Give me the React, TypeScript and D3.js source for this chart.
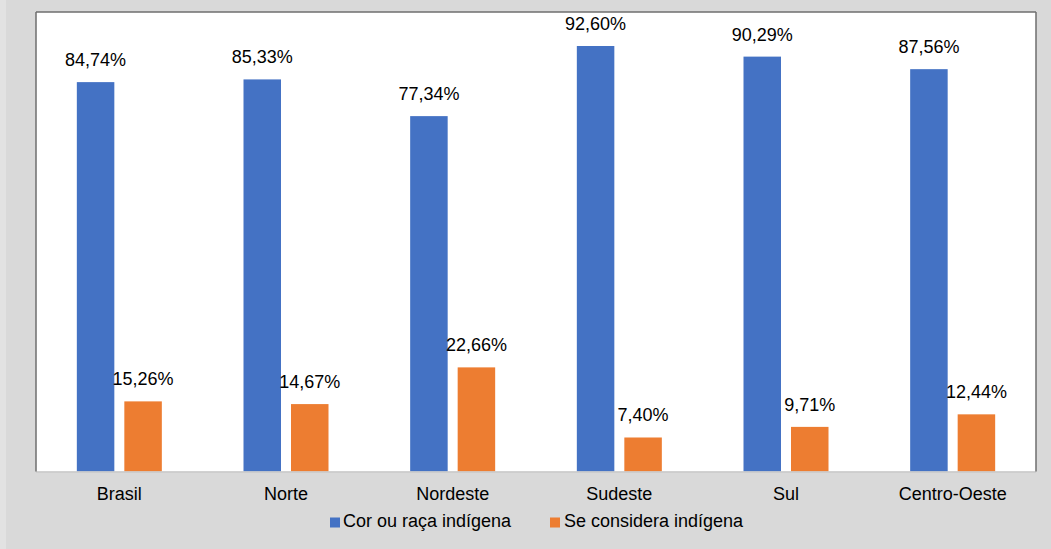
import React from "react";
import * as d3 from "d3";

const categories = ["Brasil", "Norte", "Nordeste", "Sudeste", "Sul", "Centro-Oeste"];
const seriesNames = ["Cor ou raça indígena", "Se considera indígena"];
const corOuRaca = [84.74, 85.33, 77.34, 92.6, 90.29, 87.56];
const seConsidera = [15.26, 14.67, 22.66, 7.4, 9.71, 12.44];
const colors = ["#4472c4", "#ed7d31"];

const W = 1051;
const H = 549;
const plot = { left: 36, top: 12, right: 1036, bottom: 471.5 };
const font = "'Liberation Sans', Arial, sans-serif";

const fmt = (v: number) => v.toFixed(2).replace(".", ",") + "%";

export default function App() {
  const x0 = d3.scaleBand<string>().domain(categories).range([plot.left, plot.right]).padding(0);
  const y = d3.scaleLinear().domain([0, 100]).range([plot.bottom, plot.top]);
  const barW = 37.5;
  const offsets = [-23.75, 23.75];
  const series = [corOuRaca, seConsidera];

  return (
    <svg width={W} height={H} style={{ position: "absolute", left: 0, top: 0 }} fontFamily={font}>
      <rect x={0} y={0} width={W} height={H} fill="#d9d9d9" />
      <rect x={0} y={0} width={6} height={H} fill="#e2e2e2" />
      <rect x={plot.left} y={plot.top} width={plot.right - plot.left} height={plot.bottom - plot.top} fill="#ffffff" />
      {series.map((vals, si) =>
        vals.map((v, i) => {
          const cx = (x0(categories[i]) as number) + x0.bandwidth() / 2 + offsets[si];
          return (
            <g key={`${si}-${i}`}>
              <rect x={cx - barW / 2} y={y(v)} width={barW} height={y(0) - y(v)} fill={colors[si]} />
              <text x={cx} y={y(v) - 16} textAnchor="middle" fontSize={18} fill="#000">
                {fmt(v)}
              </text>
            </g>
          );
        })
      )}
      {/* borders */}
      <line x1={plot.left} x2={plot.right} y1={plot.bottom + 0.5} y2={plot.bottom + 0.5} stroke="#c8c8c8" strokeWidth={1.5} />
      <line x1={plot.left} x2={plot.left} y1={plot.top} y2={plot.bottom} stroke="#6e6e6e" strokeWidth={1.5} />
      <line x1={plot.left} x2={plot.right} y1={plot.top} y2={plot.top} stroke="#6e6e6e" strokeWidth={1.5} />
      <line x1={plot.right} x2={plot.right} y1={plot.top} y2={plot.bottom} stroke="#6e6e6e" strokeWidth={1.5} />
      {categories.map((c) => (
        <text key={c} x={(x0(c) as number) + x0.bandwidth() / 2} y={500} textAnchor="middle" fontSize={18} fill="#000">
          {c}
        </text>
      ))}
      <g>
        <rect x={330} y={517.5} width={10} height={10} fill={colors[0]} />
        <text x={343} y={527} fontSize={18} fill="#000">{seriesNames[0]}</text>
        <rect x={550} y={517.5} width={10} height={10} fill={colors[1]} />
        <text x={564} y={527} fontSize={18} fill="#000">{seriesNames[1]}</text>
      </g>
    </svg>
  );
}
